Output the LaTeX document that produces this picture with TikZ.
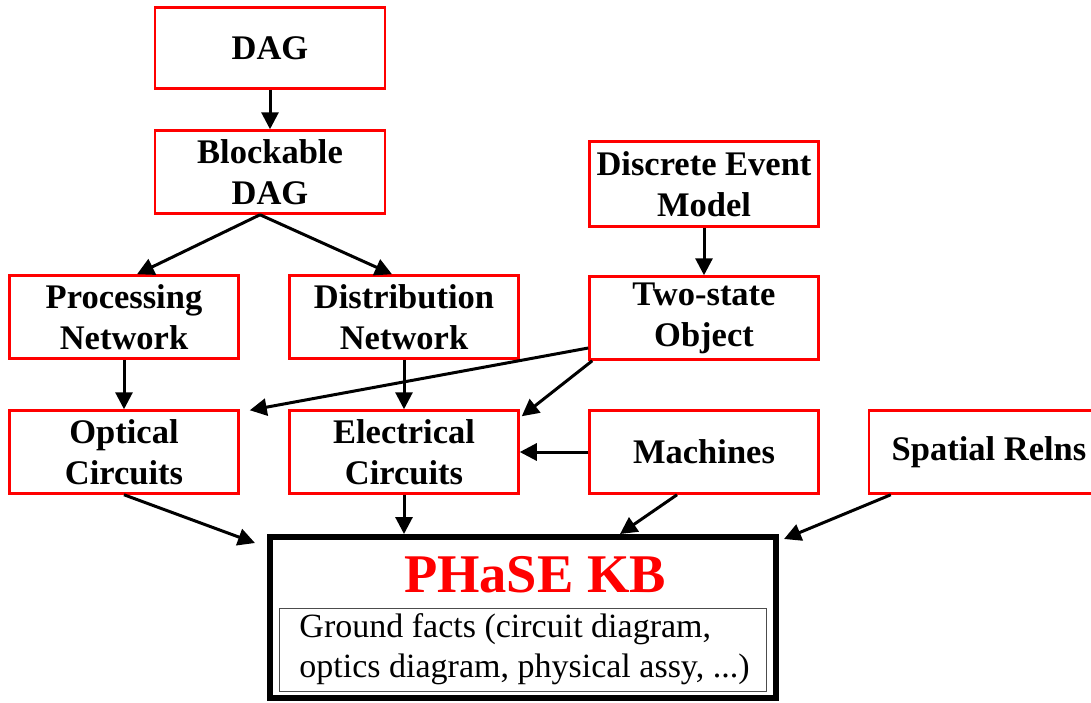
\documentclass[tikz,border=0pt]{standalone}
\usepackage        {fontspec}
\usepackage		 {tikz	  }
\usetikzlibrary	 {arrows.meta}
\setmainfont{Liberation Serif}

\begin{document}
\begin{tikzpicture}
  [->,>={Triangle[length=17pt,width=17pt]},x=1pt,y=-1pt,line width=3pt,
   box/.style={rectangle,draw=red,line width=2.5pt,minimum width=229pt,minimum height=83pt,
     inner sep=0pt,align=center,font=\fontsize{34.5}{41}\selectfont\bfseries},
   kb/.style={rectangle,draw=black,line width=6pt,minimum width=506pt,minimum height=161pt},
   kbtitle/.style={text=red,inner sep=0pt,font=\fontsize{54.5}{60}\selectfont\bfseries},
   facts/.style={rectangle,draw=black!70,line width=1pt,minimum width=487pt,minimum height=83pt,
     inner sep=0pt,align=left,font=\fontsize{34}{40}\selectfont}]
  \useasboundingbox (0,0) rectangle (1091,702);
  \clip (0,0) rectangle (1091,702);

  \node[box,minimum width=230pt,minimum height=81pt] (DAG) at (270,48) {DAG};
  \node[box,minimum width=230pt] (BDAG) at (270,172) {Blockable\\DAG};
  \node[box,minimum height=85pt] (DEM) at (704,184) {Discrete Event\\Model};
  \node[box] (TSO) at (704,318) {Two-state\\Object};
  \node[box] (PN) at (124,317) {Processing\\Network};
  \node[box] (DN) at (404,317) {Distribution\\Network};
  \node[box] (OC) at (124,452) {Optical\\Circuits};
  \node[box] (EC) at (404,452) {Electrical\\Circuits};
  \node[box] (MA) at (704,452) {Machines};
  \node[box,minimum width=230pt] (SR) at (984,452) {\hspace*{10pt}Spatial Relns};

  \node[kb] (KB) at (523,617.5) {};
  \node[kbtitle] (KBT) at (535,575) {PHaSE KB};
  \node[facts] (GF) at (522.5,649.5) {\hspace*{4pt}Ground facts (circuit diagram,\\\hspace*{4pt}optics diagram, physical assy, ...)};

    \draw (DAG) -- (BDAG);
    \draw ([xshift=-10pt]BDAG.south) -- ([xshift=13pt]PN.north);
    \draw ([xshift=-10pt]BDAG.south) -- ([xshift=-12pt]DN.north);
    \draw (DEM) -- (TSO);

    \draw (PN) -- (OC);
    \draw (DN) -- (EC);
    \draw ([yshift=-30pt]TSO.west) -- ([xshift=10pt,yshift=-1pt]OC.north east);
    \draw ([xshift=4pt]TSO.south west) -- ([xshift=2pt,yshift=-7pt]EC.north east);
    \draw (MA) -- (EC);

    \draw (OC.south) -- ([xshift=-12pt,yshift=-9pt]KB.north west);
    \draw (EC.south) -- (EC.south |- KB.north);
    \draw ([xshift=-27pt]MA.south) -- ([xshift=97pt]KB.north);
    \draw ([xshift=23pt]SR.south west) -- ([xshift=5pt,yshift=-5pt]KB.north east);

\end{tikzpicture}
\end{document}
